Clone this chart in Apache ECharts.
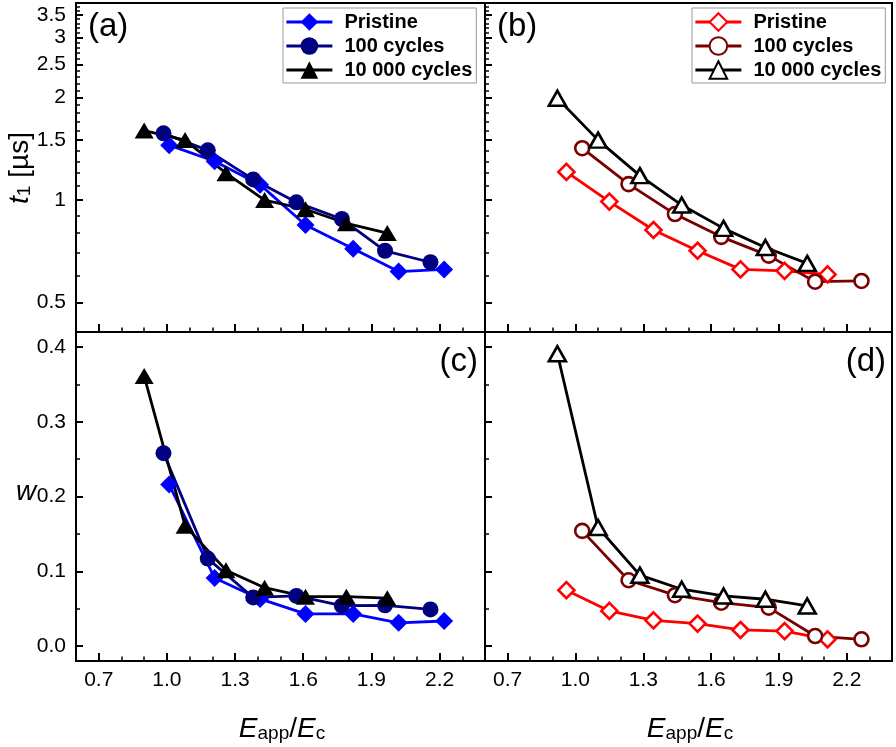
<!DOCTYPE html>
<html><head><meta charset="utf-8">
<script src="https://cdn.jsdelivr.net/npm/echarts@6/dist/echarts.min.js"></script>
<style>html,body{margin:0;padding:0;background:#fff}#c{width:896px;height:747px}</style>
</head><body><div id="c"></div>
<script>
// ---- tick labels ----
const xTickLabels = [0.7, 1.0, 1.3, 1.6, 1.9, 2.2];
const t1TickLabels = [0.5, 1, 1.5, 2, 2.5, 3, 3.5];
const wTickLabels = [0.0, 0.1, 0.2, 0.3, 0.4];
const seriesNames = ['Pristine', '100 cycles', '10 000 cycles'];

// ---- panel (a)/(c) x values (Eapp/Ec) ----
const xLeftPristine = [1.01, 1.21, 1.41, 1.61, 1.82, 2.02, 2.22];
const xLeft100 = [0.985, 1.18, 1.38, 1.57, 1.77, 1.96, 2.16];
const xLeft10000 = [0.90, 1.08, 1.26, 1.43, 1.61, 1.79, 1.97];
// ---- panel (b)/(d) x values ----
const xRightPristine = [0.96, 1.15, 1.345, 1.54, 1.73, 1.925, 2.115];
const xRight100 = [1.03, 1.235, 1.44, 1.645, 1.855, 2.06, 2.265];
const xRight10000 = [0.92, 1.10, 1.285, 1.47, 1.655, 1.84, 2.025];

// ---- panel (a): t1 [us] ----
const t1aPristine = [1.45, 1.30, 1.11, 0.845, 0.72, 0.617, 0.626];
const t1a100 = [1.57, 1.40, 1.15, 0.985, 0.88, 0.71, 0.657];
const t1a10000 = [1.60, 1.50, 1.20, 1.0, 0.94, 0.855, 0.80];
// ---- panel (b): t1 [us] ----
const t1bPristine = [1.21, 0.99, 0.817, 0.71, 0.626, 0.62, 0.605];
const t1b100 = [1.42, 1.114, 0.91, 0.78, 0.687, 0.576, 0.579];
const t1b10000 = [1.99, 1.50, 1.18, 0.967, 0.826, 0.726, 0.652];
// ---- panel (c): w ----
const wcPristine = [0.216, 0.091, 0.063, 0.043, 0.043, 0.031, 0.0335];
const wc100 = [0.258, 0.117, 0.065, 0.067, 0.054, 0.0545, 0.049];
const wc10000 = [0.361, 0.161, 0.1015, 0.078, 0.066, 0.066, 0.064];
// ---- panel (d): w ----
const wdPristine = [0.0747, 0.047, 0.0344, 0.030, 0.0215, 0.020, 0.009];
const wd100 = [0.154, 0.088, 0.068, 0.058, 0.0514, 0.0134, 0.009];
const wd10000 = [0.391, 0.1586, 0.0948, 0.076, 0.067, 0.0626, 0.0536];

const FONT = "'Liberation Sans', Arial, Helvetica, sans-serif";
function steps(a, b, div) { const r = []; for (let k = a; k <= b; k++) r.push(k / div); return r; }
const xMinor = steps(6, 24, 10);
const t1Minor = steps(5, 37, 10);
const wMinor = steps(0, 8, 20);

const grids = [
  {left: 76, top: 3, width: 409, height: 329},
  {left: 485, top: 3, width: 407, height: 329},
  {left: 76, top: 332, width: 409, height: 329},
  {left: 485, top: 332, width: 407, height: 329}
].map(g => Object.assign({show: true, borderColor: '#000', borderWidth: 2, backgroundColor: 'transparent', containLabel: false, outerBoundsMode: 'none'}, g));

const labelStyle = {color: '#000', fontSize: 21, fontFamily: FONT};
const xAxes = [], yAxes = [];
for (let i = 0; i < 4; i++) {
  xAxes.push({type: 'value', gridIndex: i, position: 'bottom', min: 0.6, max: 2.4,
    axisLine: {show: true, onZero: false, lineStyle: {color: '#000', width: 2}},
    axisTick: {show: true, inside: true, length: 8, customValues: xTickLabels, lineStyle: {color: '#000', width: 2}},
    axisLabel: Object.assign({show: i >= 2, customValues: xTickLabels, formatter: v => Number(v).toFixed(1), margin: 9}, labelStyle),
    splitLine: {show: false}});
}
for (let i = 0; i < 4; i++) {
  xAxes.push({type: 'value', gridIndex: i, position: 'bottom', min: 0.6, max: 2.4,
    axisLine: {show: false, onZero: false},
    axisTick: {show: true, inside: true, length: 4.5, customValues: xMinor, lineStyle: {color: '#000', width: 1.5}},
    axisLabel: {show: false}, splitLine: {show: false}});
}
for (let i = 0; i < 4; i++) {
  const top = i < 2;
  const base = top ? {type: 'log', logBase: 10, min: 0.41, max: 3.79} : {type: 'value', min: -0.02, max: 0.42};
  const ticks = top ? t1TickLabels : wTickLabels;
  yAxes.push(Object.assign({gridIndex: i, position: 'left',
    axisLine: {show: true, onZero: false, lineStyle: {color: '#000', width: 2}},
    axisTick: {show: true, inside: true, length: 7, customValues: ticks, lineStyle: {color: '#000', width: 2}},
    axisLabel: Object.assign({show: i % 2 === 0, customValues: ticks, margin: 10,
      formatter: top ? (v => String(Number(Number(v).toFixed(2)))) : (v => Number(v).toFixed(1))}, labelStyle),
    splitLine: {show: false}, minorTick: {show: false}}, base));
}
for (let i = 0; i < 4; i++) {
  const top = i < 2;
  const base = top ? {type: 'log', logBase: 10, min: 0.41, max: 3.79} : {type: 'value', min: -0.02, max: 0.42};
  yAxes.push(Object.assign({gridIndex: i, position: 'left',
    axisLine: {show: false, onZero: false},
    axisTick: {show: true, inside: true, length: 4, customValues: top ? t1Minor : wMinor, lineStyle: {color: '#000', width: 1.5}},
    axisLabel: {show: false}, splitLine: {show: false}}, base));
}

const leftStyles = [
  {color: '#0000FF', symbol: 'diamond', size: 18, open: false},
  {color: '#000080', symbol: 'circle', size: 16, open: false},
  {color: '#000000', symbol: 'triangle', size: [19, 16], open: false}
];
const rightStyles = [
  {color: '#FF0000', symbol: 'diamond', size: 16, open: true},
  {color: '#7A0000', symbol: 'circle', size: 14, open: true},
  {color: '#000000', symbol: 'triangle', size: [17, 15], open: true}
];
function mk(name, xs, ys, gi, st) {
  return {type: 'line', name: name, xAxisIndex: gi, yAxisIndex: gi,
    data: xs.map((x, k) => [x, ys[k]]),
    symbol: st.symbol, symbolSize: st.size, showSymbol: true, showAllSymbol: true,
    lineStyle: {color: st.color, width: 2.8},
    itemStyle: st.open ? {color: '#fff', borderColor: st.color, borderWidth: 2.6} : {color: st.color, borderWidth: 0},
    emphasis: {disabled: true}, animation: false};
}
const R = 'R:';
const series = [
  mk(seriesNames[0], xLeftPristine, t1aPristine, 0, leftStyles[0]),
  mk(seriesNames[1], xLeft100, t1a100, 0, leftStyles[1]),
  mk(seriesNames[2], xLeft10000, t1a10000, 0, leftStyles[2]),
  mk(R + seriesNames[0], xRightPristine, t1bPristine, 1, rightStyles[0]),
  mk(R + seriesNames[1], xRight100, t1b100, 1, rightStyles[1]),
  mk(R + seriesNames[2], xRight10000, t1b10000, 1, rightStyles[2]),
  mk(seriesNames[0] + ' ', xLeftPristine, wcPristine, 2, leftStyles[0]),
  mk(seriesNames[1] + ' ', xLeft100, wc100, 2, leftStyles[1]),
  mk(seriesNames[2] + ' ', xLeft10000, wc10000, 2, leftStyles[2]),
  mk(R + seriesNames[0] + ' ', xRightPristine, wdPristine, 3, rightStyles[0]),
  mk(R + seriesNames[1] + ' ', xRight100, wd100, 3, rightStyles[1]),
  mk(R + seriesNames[2] + ' ', xRight10000, wd10000, 3, rightStyles[2])
];

const legendBase = {orient: 'vertical', top: 8, padding: [4, 4, 3, 2], itemWidth: 46, itemHeight: 22, itemGap: 4,
  borderColor: '#999', borderWidth: 1, backgroundColor: '#fff', selectedMode: false,
  lineStyle: {width: 2.8},
  textStyle: {fontFamily: FONT, fontSize: 20, fontWeight: 'bold', color: '#000', padding: [0, 0, 0, 7]}};
const legends = [
  Object.assign({}, legendBase, {left: 283, data: seriesNames.slice()}),
  Object.assign({}, legendBase, {left: 692, data: seriesNames.map(n => R + n), formatter: n => n.replace(R, '')})
];

const richT = {
  i: {fontStyle: 'italic', fontSize: 28, fontFamily: FONT, fill: '#000'},
  n: {fontSize: 28, fontFamily: FONT, fill: '#000'},
  s: {fontSize: 19, fontFamily: FONT, fill: '#000', lineHeight: 10, verticalAlign: 'bottom'}
};
function txt(x, y, text, align) {
  return {type: 'text', x: x, y: y, silent: true, z: 100,
    style: {text: text, fontSize: 33, fontFamily: FONT, fill: '#000', align: align || 'left', verticalAlign: 'middle'}};
}
const graphics = [
  txt(88, 27, '(a)'),
  txt(497, 27, '(b)'),
  txt(478, 362, '(c)', 'right'),
  txt(886, 362, '(d)', 'right'),
  {type: 'text', x: 20, y: 168, rotation: Math.PI / 2, silent: true,
    style: {text: '{i|t}{s|1}{n| [µs]}', rich: richT, align: 'center', verticalAlign: 'middle'}},
  {type: 'text', x: 26, y: 492, silent: true,
    style: {text: '{i|w}', rich: richT, align: 'center', verticalAlign: 'middle'}},
  {type: 'text', x: 282, y: 729, silent: true,
    style: {text: '{i|E}{s|app}{n|/}{i|E}{s|c}', rich: richT, align: 'center', verticalAlign: 'middle'}},
  {type: 'text', x: 690, y: 729, silent: true,
    style: {text: '{i|E}{s|app}{n|/}{i|E}{s|c}', rich: richT, align: 'center', verticalAlign: 'middle'}}
];

const chart = echarts.init(document.getElementById('c'), null, {renderer: 'canvas'});
chart.setOption({
  animation: false,
  backgroundColor: '#fff',
  grid: grids,
  xAxis: xAxes,
  yAxis: yAxes,
  legend: legends,
  series: series,
  graphic: graphics
});
</script>
</body></html>
